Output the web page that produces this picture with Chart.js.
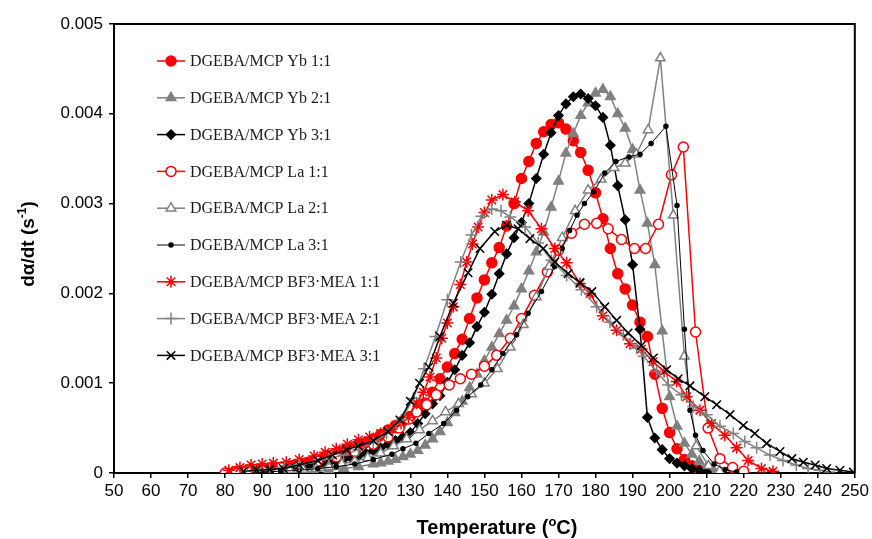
<!DOCTYPE html>
<html>
<head>
<meta charset="utf-8">
<script src="https://cdn.jsdelivr.net/npm/chart.js@4.4.1/dist/chart.umd.min.js"></script>
<style>
  html, body { margin: 0; padding: 0; background: #fff; }
  #wrap { width: 872px; height: 539px; }
</style>
</head>
<body>
<div id="wrap"><canvas id="dscChart" width="872" height="539"></canvas></div>
<script>
// Temperature (deg C) and conversion rate (1/s)
const yb11Temp = [86,88,90,92,94,96,98,100,102,104,106,108,110,112,114,116,118,120,122,124,126,128,130,132,134,136,138,140,142,144,146,148,150,152,154,156,158,160,162,164,166,168,170,172,174,176,178,180,182,184,186,188,190,192,194,196,198,200,202,204,206,208,210];
const yb11Rate = [0.00002,0.00003,0.00004,0.00005,0.00006,0.00007,0.00008,0.0001,0.00011,0.00013,0.00015,0.00017,0.0002,0.00023,0.00027,0.0003,0.00034,0.00038,0.00043,0.00048,0.00053,0.00058,0.00063,0.00069,0.00078,0.0009,0.00105,0.00118,0.00133,0.00149,0.00172,0.00195,0.00215,0.00234,0.00251,0.00275,0.003,0.00328,0.00347,0.00367,0.0038,0.00388,0.0039,0.00383,0.0037,0.00357,0.00337,0.00312,0.00283,0.0025,0.00222,0.00205,0.00187,0.00168,0.00152,0.0011,0.00072,0.00045,0.00027,0.00015,0.00008,0.00003,0.00001];

const yb21Temp = [100,104,108,112,116,120,122,124,126,128,130,132,134,136,138,140,142,144,146,148,150,152,154,156,158,160,162,164,166,168,170,172,174,176,178,180,182,184,186,188,190,192,194,196,198,200,202,204,206,208,210,212];
const yb21Rate = [0.00001,0.00002,0.00003,0.00005,0.00007,0.0001,0.00011,0.00013,0.00015,0.00018,0.00021,0.00025,0.00031,0.00038,0.00046,0.00056,0.00067,0.0008,0.00095,0.0011,0.00125,0.0014,0.00155,0.0017,0.00186,0.00205,0.00225,0.00246,0.00268,0.00296,0.00325,0.00356,0.00378,0.00398,0.00412,0.00423,0.00427,0.00419,0.004,0.00384,0.0036,0.00315,0.00278,0.00232,0.00158,0.00085,0.00052,0.00033,0.00021,0.00013,0.00006,0.00002];

const yb31Temp = [86,88,90,92,94,96,98,100,102,104,106,108,110,112,114,116,118,120,122,124,126,128,130,132,134,136,138,140,142,144,146,148,150,152,154,156,158,160,162,164,166,168,170,172,174,176,178,180,182,184,186,188,190,192,194,196,198,200,202,204,206,208,210];
const yb31Rate = [0.00001,0.00002,0.00002,0.00003,0.00003,0.00004,0.00005,0.00006,0.00007,0.00008,0.0001,0.00011,0.00013,0.00015,0.00017,0.00019,0.00022,0.00025,0.00028,0.00032,0.00036,0.0004,0.00045,0.00055,0.00066,0.00077,0.00086,0.00101,0.00115,0.00131,0.00145,0.00163,0.00179,0.00199,0.00222,0.00244,0.00262,0.00279,0.003,0.00328,0.00355,0.00379,0.00398,0.00411,0.00419,0.00422,0.00417,0.00409,0.00396,0.00365,0.0032,0.00282,0.00232,0.0016,0.00062,0.00039,0.00026,0.00016,0.00011,0.00008,0.00005,0.00003,0.00001];

const la11Temp = [80,83,86,90,95,100,105,110,115,120,124,127,129.5,131.7,134.4,137,140.5,143.5,146.5,150,153.3,157,160,163.5,167,170,173.5,177,180.3,183.4,187,190.5,193.5,197,200.5,203.7,207,210.4,213.6,217,220];
const la11Rate = [0,0.00002,0.00003,0.00004,0.00006,0.00009,0.00013,0.00018,0.00024,0.00032,0.0004,0.0005,0.0006,0.00068,0.00076,0.00087,0.00098,0.00105,0.0011,0.00119,0.00131,0.0015,0.00172,0.00198,0.00224,0.00248,0.00267,0.00277,0.00278,0.00272,0.0026,0.0025,0.0025,0.00277,0.00332,0.00363,0.00157,0.0005,0.00016,0.00006,0.00002];

const la21Temp = [90,94,97.5,101,104.5,108,111.5,115,118.5,122,125.5,129,132.5,136,139.5,143,146.5,150,153.5,157,160.5,164,167.5,171,174.5,178,181.5,185,188,191,194.2,197.5,201,204,207.2,210.5,213.5];
const la21Rate = [0.00001,0.00002,0.00003,0.00004,0.00005,0.00007,0.0001,0.00013,0.00017,0.00022,0.0003,0.00038,0.00048,0.00058,0.00068,0.00077,0.00088,0.001,0.00116,0.0014,0.00165,0.00196,0.0023,0.00262,0.00292,0.00315,0.00327,0.0034,0.00345,0.00355,0.00382,0.00462,0.00287,0.0013,0.0003,0.00008,0.00002];

const la31Temp = [90,95,100,105,110,115,120,125,128,131.5,135,139,142.5,145.5,149,152,155,158.7,161.8,165.4,169,171,173,175,177,179.5,182.5,185.5,189,192,195,199,202,204,205.5,207,209,212,215,218];
const la31Rate = [0.00001,0.00002,0.00003,0.00005,0.00007,0.0001,0.00015,0.00021,0.00027,0.00033,0.00044,0.00055,0.0007,0.00085,0.00098,0.00115,0.00133,0.00154,0.00178,0.00202,0.0023,0.0025,0.0027,0.00287,0.003,0.00313,0.00334,0.00347,0.00352,0.00355,0.00367,0.00386,0.00298,0.0016,0.0007,0.00042,0.00025,0.0001,0.00004,0.00001];

const bf11Temp = [81,84,87,90,93,96.5,100,104,107,110,113,116,119,122,125,127.5,129.5,131.7,133.5,135.3,137,138.5,140,141.6,143.5,145.2,146.8,148.3,150,152,155,158.2,161.8,165.4,169,172.2,175.8,178.5,182,185.7,189.3,192.4,195.5,198.5,201.9,204.6,208.2,211.3,214.9,218.1,221.2,224.8,227.9];
const bf11Rate = [0.00003,0.00006,0.00009,0.0001,0.00011,0.00012,0.00015,0.00019,0.00023,0.00027,0.00032,0.00037,0.0004,0.00044,0.00049,0.00055,0.00062,0.00078,0.0009,0.00107,0.00128,0.0015,0.00167,0.00185,0.0021,0.00235,0.00255,0.00274,0.0029,0.00304,0.0031,0.00302,0.00292,0.00272,0.0025,0.00234,0.00211,0.002,0.00175,0.00159,0.00144,0.00138,0.00124,0.00113,0.00102,0.00085,0.0007,0.00055,0.00042,0.00028,0.00014,0.00005,0.00002];

const bf21Temp = [88,92,96,100,104,108,112,116,120,123.6,127.6,130.8,133.7,136.8,140,143.6,146.5,149.2,152,154.5,157,161,164.5,168.1,172.2,176.2,180.3,183.9,187.5,191.1,193,196.5,199.6,203.2,206.4,210,213.6,217.2,220.3,223.5,227.1,230.6,234.2,237.4,240.5,243];
const bf21Rate = [0.00002,0.00004,0.00006,0.00009,0.00012,0.00016,0.0002,0.00026,0.00034,0.00044,0.00059,0.00083,0.00116,0.00152,0.00193,0.00235,0.00265,0.00286,0.00294,0.00292,0.00285,0.00274,0.00256,0.00237,0.0022,0.00204,0.00185,0.00168,0.00154,0.00139,0.0013,0.00113,0.00098,0.00087,0.00074,0.00065,0.00052,0.00044,0.00035,0.00028,0.0002,0.00014,0.00009,0.00005,0.00003,0.00001];

const bf31Temp = [85,88.5,92,95.7,100,105,109,112.8,116,120,124,127.2,130,132.5,135,138,141.6,145.6,148.8,152.8,156,159.1,162.3,165.9,169,172.6,175.8,179,182.5,185.7,188.8,192.4,195.6,199.2,202.3,205.5,209.5,212.7,216.3,219.9,223,226.2,229.8,233,236.1,239.3,242.4,246,249.6];
const bf31Rate = [0.00002,0.00003,0.00004,0.00005,0.00009,0.00014,0.0002,0.00026,0.0003,0.00036,0.00046,0.00059,0.0008,0.001,0.00118,0.00152,0.00189,0.00223,0.0025,0.00269,0.00276,0.00272,0.00261,0.0025,0.00235,0.00222,0.00212,0.00202,0.00185,0.0017,0.00156,0.00142,0.00128,0.00115,0.00105,0.00097,0.00085,0.00076,0.00065,0.00053,0.00044,0.00033,0.00024,0.00016,0.00012,0.00009,0.00005,0.00003,0.00001];

const seriesLabels = [
    'DGEBA/MCP Yb 1:1', 'DGEBA/MCP Yb 2:1', 'DGEBA/MCP Yb 3:1',
    'DGEBA/MCP La 1:1', 'DGEBA/MCP La 2:1', 'DGEBA/MCP La 3:1',
    'DGEBA/MCP BF3\u00B7MEA 1:1', 'DGEBA/MCP BF3\u00B7MEA 2:1', 'DGEBA/MCP BF3\u00B7MEA 3:1'
];

const RED = '#ff0000';
const GREY = '#808080';
const BLACK = '#000000';

function pts(temps, rates) {
    return temps.map((t, i) => ({ x: t, y: rates[i] }));
}

function series(idx, temps, rates, color, style, radius, fill, lineWidth) {
    return {
        label: seriesLabels[idx],
        data: pts(temps, rates),
        borderColor: color,
        backgroundColor: color,
        borderWidth: lineWidth,
        pointStyle: style,
        pointRadius: radius,
        pointBorderColor: color,
        pointBackgroundColor: fill,
        pointBorderWidth: 1.5,
        tension: 0,
        order: 8 - idx // later series sit on top, like the original plot
    };
}

const datasets = [
    series(0, yb11Temp, yb11Rate, RED, 'circle', 5, RED, 1.5),
    series(1, yb21Temp, yb21Rate, GREY, 'triangle', 5.5, GREY, 1.5),
    series(2, yb31Temp, yb31Rate, BLACK, 'rectRot', 4.5, BLACK, 1.5),
    series(3, la11Temp, la11Rate, RED, 'circle', 5, '#ffffff', 1.5),
    series(4, la21Temp, la21Rate, GREY, 'triangle', 5.5, '#ffffff', 1.5),
    series(5, la31Temp, la31Rate, BLACK, 'circle', 2, BLACK, 1),
    series(6, bf11Temp, bf11Rate, RED, 'star', 6, RED, 1.5),
    series(7, bf21Temp, bf21Rate, GREY, 'cross', 6, GREY, 1.5),
    series(8, bf31Temp, bf31Rate, BLACK, 'crossRot', 6, BLACK, 1.5)
];

const tickFont = { family: "'Liberation Sans', Arial, sans-serif", size: 17 };

// frame, axis titles and the inset legend
const decorPlugin = {
    id: 'decor',
    afterDraw(chart) {
        const { ctx, chartArea: a } = chart;
        ctx.save();
        ctx.strokeStyle = '#000';
        ctx.lineWidth = 2;
        ctx.beginPath();
        ctx.moveTo(a.left, a.top);
        ctx.lineTo(a.right, a.top);
        ctx.lineTo(a.right, a.bottom);
        ctx.stroke();

        // x title with raised "o"
        ctx.fillStyle = '#000';
        ctx.textBaseline = 'alphabetic';
        const big = "bold 20px 'Liberation Sans', Arial, sans-serif";
        const small = "bold 13px 'Liberation Sans', Arial, sans-serif";
        ctx.font = big;
        const p1 = 'Temperature (', p3 = 'C)';
        const w1 = ctx.measureText(p1).width, w3 = ctx.measureText(p3).width;
        ctx.font = small;
        const w2 = ctx.measureText('o').width;
        let x = 497 - (w1 + w2 + w3) / 2;
        const yb = 534;
        ctx.font = big; ctx.fillText(p1, x, yb); x += w1;
        ctx.font = small; ctx.fillText('o', x, yb - 8); x += w2;
        ctx.font = big; ctx.fillText(p3, x, yb);

        // y title, rotated, with superscript -1
        ctx.save();
        ctx.translate(27, 244);
        ctx.rotate(-Math.PI / 2);
        const yb1 = 'd\u03B1/dt (s', yb3 = ')';
        const bigY = "bold 19px 'Liberation Sans', Arial, sans-serif";
        const smallY = "bold 12px 'Liberation Sans', Arial, sans-serif";
        ctx.font = bigY;
        const v1 = ctx.measureText(yb1).width, v3 = ctx.measureText(yb3).width;
        ctx.font = smallY;
        const v2 = ctx.measureText('-1').width;
        let lx = -(v1 + v2 + v3) / 2;
        ctx.font = bigY; ctx.fillText(yb1, lx, 7); lx += v1;
        ctx.font = smallY; ctx.fillText('-1', lx, -1); lx += v2;
        ctx.font = bigY; ctx.fillText(yb3, lx, 7);
        ctx.restore();

        // legend: line + marker + serif label
        chart.data.datasets.forEach((ds, i) => {
            const ly = 61 + i * 36.8;
            ctx.strokeStyle = ds.borderColor;
            ctx.lineWidth = ds.borderWidth;
            ctx.beginPath();
            ctx.moveTo(157, ly);
            ctx.lineTo(185, ly);
            ctx.stroke();
            ctx.fillStyle = ds.pointBackgroundColor;
            ctx.strokeStyle = ds.pointBorderColor;
            ctx.lineWidth = ds.pointBorderWidth;
            Chart.helpers.drawPoint(ctx, {
                pointStyle: ds.pointStyle,
                radius: ds.pointRadius,
                rotation: 0,
                borderWidth: ds.pointBorderWidth
            }, 171, ly);
            ctx.fillStyle = '#1a1a1a';
            ctx.font = "16px 'Liberation Serif', 'Times New Roman', serif";
            ctx.textBaseline = 'middle';
            ctx.fillText(ds.label, 190, ly + 1);
        });
        ctx.restore();
    }
};

new Chart(document.getElementById('dscChart'), {
    type: 'line',
    data: { datasets: datasets },
    options: {
        responsive: false,
        animation: false,
        devicePixelRatio: 1,
        layout: { padding: { top: 24, right: 17, left: 0, bottom: 0 } },
        plugins: {
            legend: { display: false },
            tooltip: { enabled: false }
        },
        scales: {
            x: {
                type: 'linear',
                min: 50,
                max: 250,
                ticks: { stepSize: 10, color: '#000', font: tickFont, padding: 3, maxRotation: 0, autoSkip: false },
                grid: { drawOnChartArea: false, drawTicks: true, tickLength: 5, color: '#000', lineWidth: 1.5 },
                border: { display: true, color: '#000', width: 2 },
                afterFit(scale) { scale.height = 66; }
            },
            y: {
                type: 'linear',
                min: 0,
                max: 0.005,
                ticks: {
                    stepSize: 0.001,
                    color: '#000',
                    font: tickFont,
                    padding: 6,
                    callback: (v) => v === 0 ? '0' : v.toFixed(3)
                },
                grid: { drawOnChartArea: false, drawTicks: true, tickLength: 5, color: '#000', lineWidth: 1.5 },
                border: { display: true, color: '#000', width: 2 },
                afterFit(scale) { scale.width = 114; }
            }
        }
    },
    plugins: [decorPlugin]
});
</script>
</body>
</html>
